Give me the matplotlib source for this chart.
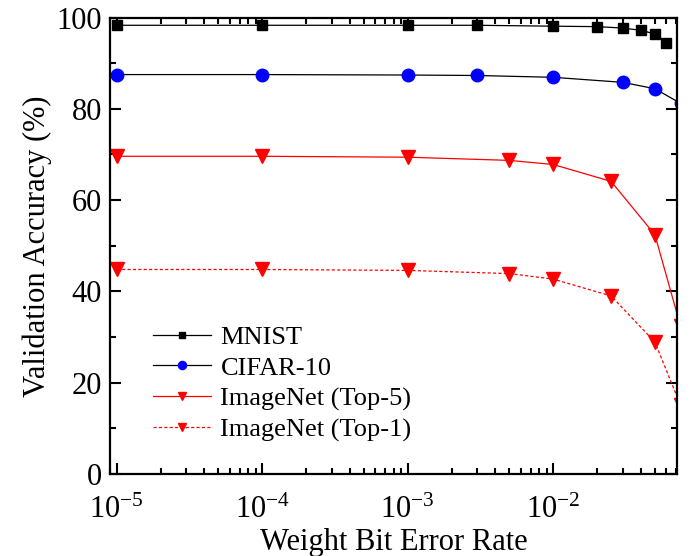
import numpy as np
import matplotlib
matplotlib.use("Agg")
import matplotlib.pyplot as plt
from matplotlib.ticker import LogLocator, FixedLocator, MultipleLocator, NullFormatter

plt.rcParams['font.family'] = ['Liberation Serif', 'DejaVu Serif']
plt.rcParams['mathtext.fontset'] = 'custom'
plt.rcParams['mathtext.rm'] = 'Liberation Serif'

# data
mnist_x = [1e-5, 1e-4, 1e-3, 3e-3, 1e-2, 2e-2, 3e-2, 4e-2, 5e-2, 6e-2]
mnist_y = [98.3, 98.3, 98.3, 98.3, 98.1, 98.0, 97.7, 97.2, 96.4, 94.5]

cifar_x = [1e-5, 1e-4, 1e-3, 3e-3, 1e-2, 3e-2, 5e-2, 7.5e-2]
cifar_y = [87.5, 87.5, 87.4, 87.3, 86.9, 85.8, 84.4, 81.2]

imnet_x = [1e-5, 1e-4, 1e-3, 5e-3, 1e-2, 2.5e-2, 5e-2, 7.5e-2]
top5_y = [69.6, 69.6, 69.4, 68.7, 67.8, 64.1, 52.4, 32.4]
top1_y = [44.8, 44.8, 44.6, 43.9, 42.7, 39.0, 28.9, 15.1]

fig = plt.figure(figsize=(6.97, 5.56), dpi=100)
ax = fig.add_axes([0.158, 0.1475, 0.813, 0.821])

ax.plot(mnist_x, mnist_y, color='black', lw=0.9, marker='s', ms=7.5, label='MNIST')
ax.plot(cifar_x, cifar_y, color='black', lw=0.9, marker='o', mfc='blue', mec='blue', ms=9, label='CIFAR-10')
ax.plot(imnet_x, top5_y, color='red', lw=0.9, marker='v', ms=9.5, label='ImageNet (Top-5)')
ax.plot(imnet_x, top1_y, color='red', lw=0.9, ls=(0, (2.5, 1.8)), marker='v', ms=9.5, label='ImageNet (Top-1)')

ax.set_xscale('log')
ax.set_xlim(0.9e-5, 0.0707)
ax.set_ylim(0, 100)

ax.xaxis.set_major_locator(FixedLocator([1e-5, 1e-4, 1e-3, 1e-2]))
ax.xaxis.set_minor_locator(LogLocator(base=10, subs=np.arange(2, 10)))
ax.xaxis.set_minor_formatter(NullFormatter())
ax.set_xticklabels([r'$\mathregular{10^{-5}}$', r'$\mathregular{10^{-4}}$',
                    r'$\mathregular{10^{-3}}$', r'$\mathregular{10^{-2}}$'])
ax.yaxis.set_major_locator(MultipleLocator(20))
ax.yaxis.set_minor_locator(MultipleLocator(10))

ax.tick_params(which='both', direction='in', top=True, right=True, width=1.5, labelsize=22)
ax.tick_params(axis='x', which='major', pad=16)
ax.tick_params(axis='y', which='major', pad=6)
ax.tick_params(which='major', length=8)
ax.tick_params(which='minor', length=4)
for s in ax.spines.values():
    s.set_linewidth(1.6)

ax.set_xlabel('Weight Bit Error Rate', fontsize=22, labelpad=2)
ax.set_ylabel('Validation Accuracy (%)', fontsize=22, labelpad=3)

ax.legend(loc='upper left', bbox_to_anchor=(0.076, 0.325), frameon=False, fontsize=19,
          markerscale=0.65, handlelength=2.2, handletextpad=0.35, labelspacing=0.27,
          borderpad=0, borderaxespad=0)

fig.savefig('out.png', dpi=100)
